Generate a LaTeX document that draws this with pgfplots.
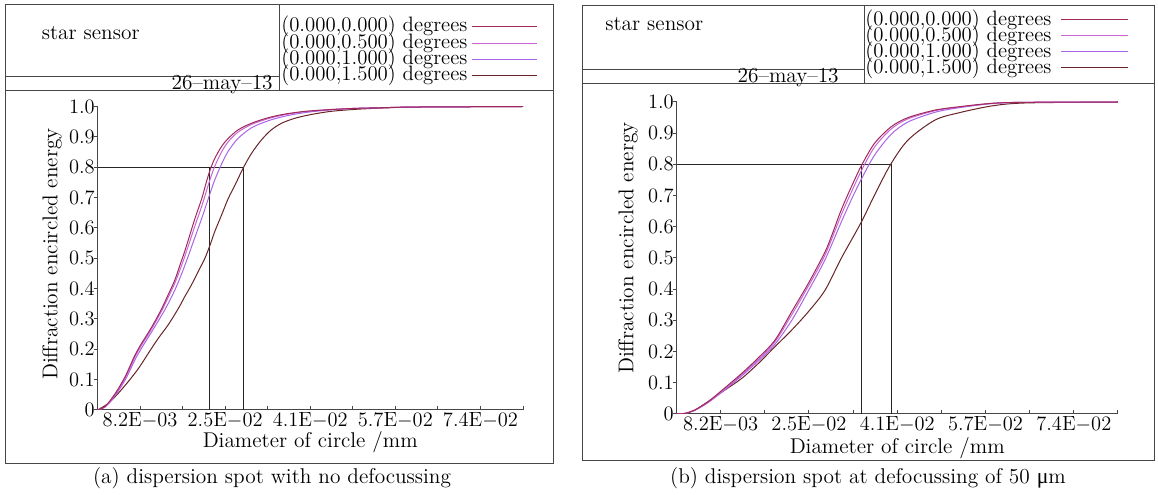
\documentclass[border=0pt]{standalone}
\usepackage{pgfplots}
\pgfplotsset{compat=1.18}
\usepackage{fontspec}
\newfontfamily\libser{Liberation Serif}
\definecolor{c00}{RGB}{160,40,90}
\definecolor{c05}{RGB}{200,100,210}
\definecolor{c10}{RGB}{170,100,230}
\definecolor{c15}{RGB}{105,35,40}
\definecolor{frm}{RGB}{70,70,70}
\newcommand\tf{\fontsize{12.8}{14}\selectfont}
\newcommand\lf{\fontsize{12.5}{12.5}\selectfont}
\pgfplotsset{
 myaxis/.style={
  scale only axis, anchor=south west,
  xmin=0, xmax=0.082, ymin=0, ymax=1,
  axis x line*=bottom, axis y line*=left,
  axis line style={frm, line width=0.6pt, -},
  tick align=inside, major tick length=2.4pt,
  tick style={frm, line width=0.6pt},
  ytick style={xshift=-2.4pt},
  xtick={0.0082,0.0164,0.0246,0.0328,0.041,0.0492,0.0574,0.0656,0.0738,0.082},
  xticklabels={8.2E$-$03,{},2.5E$-$02,{},4.1E$-$02,{},5.7E$-$02,{},7.4E$-$02,{}},
  ytick={0,0.1,0.2,0.3,0.4,0.5,0.6,0.7,0.8,0.9,1.0},
  yticklabels={0,0.1,0.2,0.3,0.4,0.5,0.6,0.7,0.8,0.9,1.0},
  scaled x ticks=false, scaled y ticks=false,
  tick label style={font=\fontsize{12.3}{12.3}\selectfont},
  xticklabel style={inner ysep=1.5pt},
  yticklabel style={inner xsep=1.5pt},
  label style={font=\tf},
  xlabel={Diameter of circle /mm},
  ylabel={Diffraction encircled energy},
  every axis plot/.append style={line width=0.6pt, no markers},
 },
 refl/.style={black!85, line width=0.6pt, sharp plot},
}
\begin{document}
\begin{tikzpicture}
\begin{scope}[x=0.6pt,y=-0.6pt]
\path (0,0) rectangle (1158,495);
% panel (a) frame and header
\draw[frm, line width=0.6pt] (5,5) rectangle (553.5,463);
\draw[frm, line width=0.6pt] (5,76.7) -- (279.5,76.7);
\draw[frm, line width=0.6pt] (5,91) -- (553.5,91);
\draw[frm, line width=0.6pt] (279.5,5) -- (279.5,91);
\node[anchor=base west, inner sep=0pt, font=\tf] at (41.5,40) {star sensor};
\node[anchor=base east, inner sep=0pt, font=\tf] at (273,89.5) {26--may--13};
\node[anchor=west, inner sep=0pt, font=\lf] at (281,26.7) {(0.000,0.000) degrees};
\node[anchor=west, inner sep=0pt, font=\lf] at (281,43.3) {(0.000,0.500) degrees};
\node[anchor=west, inner sep=0pt, font=\lf] at (281,59.3) {(0.000,1.000) degrees};
\node[anchor=west, inner sep=0pt, font=\lf] at (281,75.0) {(0.000,1.500) degrees};
\draw[c00, line width=0.6pt] (472,26.7) -- (537,26.7);
\draw[c05, line width=0.6pt] (472,44) -- (537,44);
\draw[c10, line width=0.6pt] (472,60) -- (537,60);
\draw[c15, line width=0.6pt] (472,75.7) -- (537,75.7);
\node[font=\tf] at (272,478) {(a) dispersion spot with no defocussing};
% panel (b) frame and header
\draw[frm, line width=0.6pt] (582,6) rectangle (1154,460);
\draw[frm, line width=0.6pt] (582,70) -- (864,70);
\draw[frm, line width=0.6pt] (582,84) -- (1154,84);
\draw[frm, line width=0.6pt] (864,6) -- (864,84);
\node[anchor=base west, inner sep=0pt, font=\tf] at (605,31) {star sensor};
\node[anchor=base east, inner sep=0pt, font=\tf] at (839,82.5) {26--may--13};
\node[anchor=west, inner sep=0pt, font=\lf] at (865,20) {(0.000,0.000) degrees};
\node[anchor=west, inner sep=0pt, font=\lf] at (865,36) {(0.000,0.500) degrees};
\node[anchor=west, inner sep=0pt, font=\lf] at (865,52) {(0.000,1.000) degrees};
\node[anchor=west, inner sep=0pt, font=\lf] at (865,68) {(0.000,1.500) degrees};
\draw[c00, line width=0.6pt] (1061,20) -- (1128,20);
\draw[c05, line width=0.6pt] (1061,36) -- (1128,36);
\draw[c10, line width=0.6pt] (1061,52) -- (1128,52);
\draw[c15, line width=0.6pt] (1061,68) -- (1128,68);
\node[font=\tf] at (868,478) {(b) dispersion spot at defocussing of 50 {\libser\fontsize{13}{13}\selectfont μ}m};
\end{scope}

% ---------------- panel (a) ----------------
\begin{axis}[myaxis, at={(58.5pt,-246pt)}, width=255.3pt, height=182.1pt,
  xlabel style={at={(axis description cs:0.5,-0.105)}, anchor=center},
  ylabel style={at={(axis description cs:-0.107,0.514)}, anchor=center}]
\addplot[refl] coordinates {(0,0.8) (0.02807,0.8) (0.02807,0)};
\addplot[refl] coordinates {(0.02152,0.8) (0.02152,0)};
% (0.000,1.500)
\addplot[c15, smooth] coordinates {
(0,0) (0.0021,0.022) (0.0040,0.055) (0.0059,0.093) (0.0079,0.137) (0.0098,0.187)
(0.0117,0.236) (0.0136,0.280) (0.0156,0.335) (0.0168,0.373) (0.0181,0.412)
(0.0194,0.456) (0.0207,0.500) (0.0217,0.544) (0.0226,0.588) (0.0239,0.642)
(0.0252,0.697) (0.0265,0.741) (0.0281,0.798) (0.0297,0.846) (0.0316,0.890)
(0.0335,0.923) (0.0355,0.945) (0.0380,0.961) (0.0410,0.973) (0.0450,0.984)
(0.0500,0.991) (0.0550,0.995) (0.0600,0.998) (0.0700,0.999) (0.0820,1.000)};
% (0.000,1.000)
\addplot[c10, smooth] coordinates {
(0,0) (0.0014,0.009) (0.0027,0.032) (0.0040,0.062) (0.0053,0.098) (0.0063,0.132)
(0.0072,0.165) (0.0085,0.204) (0.0098,0.240) (0.0111,0.276) (0.0124,0.313)
(0.0136,0.350) (0.0149,0.395) (0.0159,0.435) (0.0168,0.475) (0.0178,0.522)
(0.0188,0.570) (0.0201,0.632) (0.0210,0.678) (0.0217,0.714) (0.0226,0.758)
(0.0239,0.810) (0.0252,0.853) (0.0271,0.895) (0.0297,0.930) (0.0329,0.953)
(0.0361,0.968) (0.0400,0.980) (0.0450,0.989) (0.0500,0.994) (0.0550,0.996)
(0.0600,0.998) (0.0700,0.999) (0.0820,1.000)};
% (0.000,0.500)
\addplot[c05, smooth] coordinates {
(0,0) (0.0014,0.010) (0.0027,0.035) (0.0040,0.067) (0.0053,0.105) (0.0063,0.140)
(0.0072,0.175) (0.0085,0.214) (0.0098,0.249) (0.0111,0.287) (0.0124,0.328)
(0.0136,0.370) (0.0149,0.418) (0.0159,0.462) (0.0168,0.505) (0.0178,0.556)
(0.0188,0.608) (0.0201,0.672) (0.0210,0.722) (0.0217,0.760) (0.0226,0.803)
(0.0239,0.850) (0.0252,0.884) (0.0271,0.916) (0.0297,0.941) (0.0329,0.960)
(0.0361,0.973) (0.0400,0.983) (0.0450,0.990) (0.0500,0.994) (0.0550,0.996)
(0.0600,0.998) (0.0700,0.999) (0.0820,1.000)};
% (0.000,0.000)
\addplot[c00, smooth] coordinates {
(0,0) (0.0014,0.011) (0.0027,0.037) (0.0040,0.070) (0.0053,0.109) (0.0063,0.146)
(0.0072,0.180) (0.0085,0.220) (0.0098,0.255) (0.0111,0.293) (0.0124,0.335)
(0.0136,0.379) (0.0149,0.428) (0.0159,0.478) (0.0168,0.522) (0.0178,0.577)
(0.0188,0.632) (0.0201,0.697) (0.0210,0.752) (0.0217,0.791) (0.0226,0.829)
(0.0239,0.868) (0.0252,0.895) (0.0271,0.923) (0.0297,0.945) (0.0329,0.963)
(0.0361,0.975) (0.0400,0.984) (0.0450,0.990) (0.0500,0.994) (0.0550,0.996)
(0.0600,0.998) (0.0700,0.999) (0.0820,1.000)};
\end{axis}

% ---------------- panel (b) ----------------
\begin{axis}[myaxis, at={(405.9pt,-248.4pt)}, width=264.9pt, height=187.2pt,
  xlabel style={at={(axis description cs:0.5,-0.109)}, anchor=center},
  ylabel style={at={(axis description cs:-0.11,0.532)}, anchor=center}]
\addplot[refl] coordinates {(0,0.8) (0.03989,0.8) (0.03989,0)};
\addplot[refl] coordinates {(0.03432,0.8) (0.03432,0)};
% (0.000,1.500)
\addplot[c15, smooth] coordinates {
(0,0) (0.0016,0.002) (0.0034,0.012) (0.0059,0.040) (0.0090,0.077) (0.0121,0.114)
(0.0152,0.162) (0.0183,0.216) (0.0214,0.269) (0.0245,0.328) (0.0276,0.397)
(0.0306,0.499) (0.0342,0.611) (0.0368,0.702) (0.0397,0.798) (0.0430,0.878)
(0.0480,0.942) (0.0526,0.966) (0.0588,0.988) (0.0650,0.997) (0.0820,1.000)};
% (0.000,1.000)
\addplot[c10, smooth] coordinates {
(0,0) (0.0016,0.002) (0.0034,0.012) (0.0059,0.037) (0.0090,0.078) (0.0121,0.122)
(0.0152,0.170) (0.0183,0.224) (0.0214,0.300) (0.0245,0.395) (0.0276,0.495)
(0.0306,0.615) (0.0325,0.688) (0.0344,0.755) (0.0368,0.830) (0.0399,0.897)
(0.0430,0.936) (0.0480,0.967) (0.0526,0.982) (0.0588,0.995) (0.0650,0.999)
(0.0820,1.000)};
% (0.000,0.500)
\addplot[c05, smooth] coordinates {
(0,0) (0.0016,0.002) (0.0034,0.012) (0.0059,0.038) (0.0090,0.080) (0.0121,0.126)
(0.0152,0.175) (0.0183,0.232) (0.0214,0.318) (0.0245,0.410) (0.0276,0.510)
(0.0306,0.638) (0.0325,0.712) (0.0344,0.782) (0.0368,0.856) (0.0399,0.914)
(0.0430,0.946) (0.0480,0.972) (0.0526,0.984) (0.0588,0.996) (0.0650,0.999)
(0.0820,1.000)};
% (0.000,0.000)
\addplot[c00, smooth] coordinates {
(0,0) (0.0016,0.002) (0.0034,0.013) (0.0059,0.040) (0.0090,0.084) (0.0121,0.130)
(0.0152,0.180) (0.0183,0.237) (0.0214,0.328) (0.0245,0.419) (0.0276,0.520)
(0.0290,0.580) (0.0306,0.654) (0.0325,0.729) (0.0344,0.798) (0.0368,0.868)
(0.0399,0.921) (0.0430,0.950) (0.0480,0.974) (0.0526,0.985) (0.0588,0.996)
(0.0650,0.999) (0.0820,1.000)};
\end{axis}
\end{tikzpicture}
\end{document}
